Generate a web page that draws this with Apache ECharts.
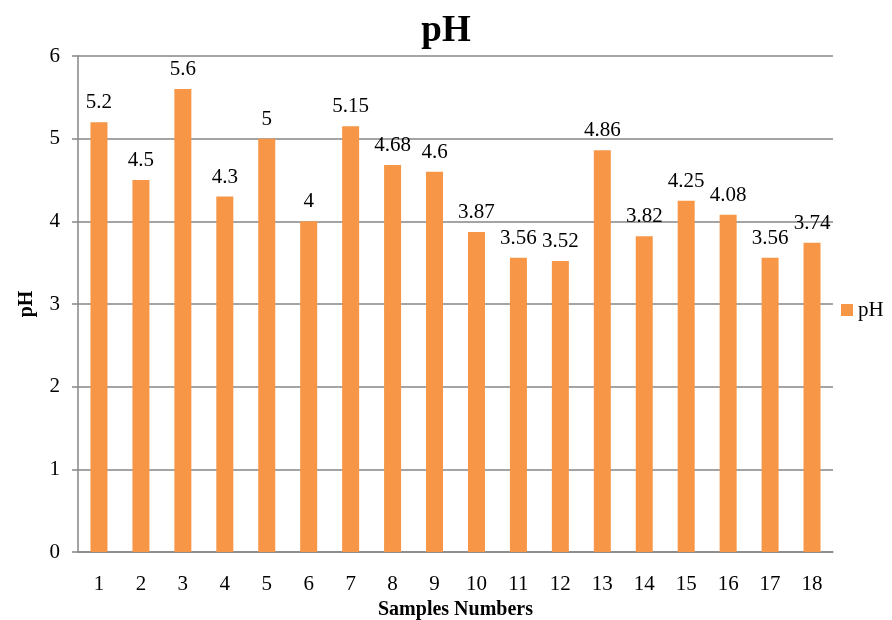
<!DOCTYPE html>
<html><head><meta charset="utf-8">
<script src="https://cdn.jsdelivr.net/npm/echarts@6/dist/echarts.min.js"></script>
<style>html,body{margin:0;padding:0;background:#fff}#c{width:892px;height:620px}</style>
</head><body><div id="c"></div>
<script>
const categories = ['1','2','3','4','5','6','7','8','9','10','11','12','13','14','15','16','17','18'];
const phValues = [5.2,4.5,5.6,4.3,5,4,5.15,4.68,4.6,3.87,3.56,3.52,4.86,3.82,4.25,4.08,3.56,3.74];
const yTicks = [0,1,2,3,4,5,6];
const F = '"Liberation Serif","Times New Roman",serif';
const chart = echarts.init(document.getElementById('c'));
chart.setOption({
  animation:false,
  title:{text:'pH',left:'center',top:8,textStyle:{fontFamily:F,fontSize:37,fontWeight:'bold',color:'#000'}},
  legend:{data:['pH'],top:'middle',orient:'vertical',itemWidth:12,itemHeight:12,itemGap:6,
    textStyle:{fontFamily:F,fontSize:21,color:'#000'},icon:'rect',left:836},
  grid:{left:78,right:59,top:56,bottom:68,outerBoundsMode:'none',containLabel:false},
  xAxis:{type:'category',data:categories,name:'Samples Numbers',nameLocation:'middle',nameGap:46,
    nameTextStyle:{fontFamily:F,fontSize:20,fontWeight:'bold',color:'#000'},
    axisLine:{lineStyle:{color:'#868686',width:1.5}},axisTick:{show:false},
    axisLabel:{fontFamily:F,fontSize:21,color:'#000',margin:22}},
  yAxis:{type:'value',min:0,max:6,interval:1,name:'pH',nameLocation:'middle',nameGap:41,
    nameTextStyle:{fontFamily:F,fontSize:20,fontWeight:'bold',color:'#000'},
    axisLine:{show:true,lineStyle:{color:'#868686',width:1.5}},
    axisTick:{show:true,length:6,lineStyle:{color:'#868686',width:1.5}},
    splitLine:{lineStyle:{color:'#868686',width:1.5}},
    axisLabel:{fontFamily:F,fontSize:21,color:'#000',margin:18,formatter:v=>yTicks.includes(v)?String(v):''}},
  series:[{name:'pH',type:'bar',data:phValues,barWidth:17,itemStyle:{color:'#F79646'},
    label:{show:true,position:'top',distance:9,fontFamily:F,fontSize:21,color:'#000'}}]
});
</script></body></html>
